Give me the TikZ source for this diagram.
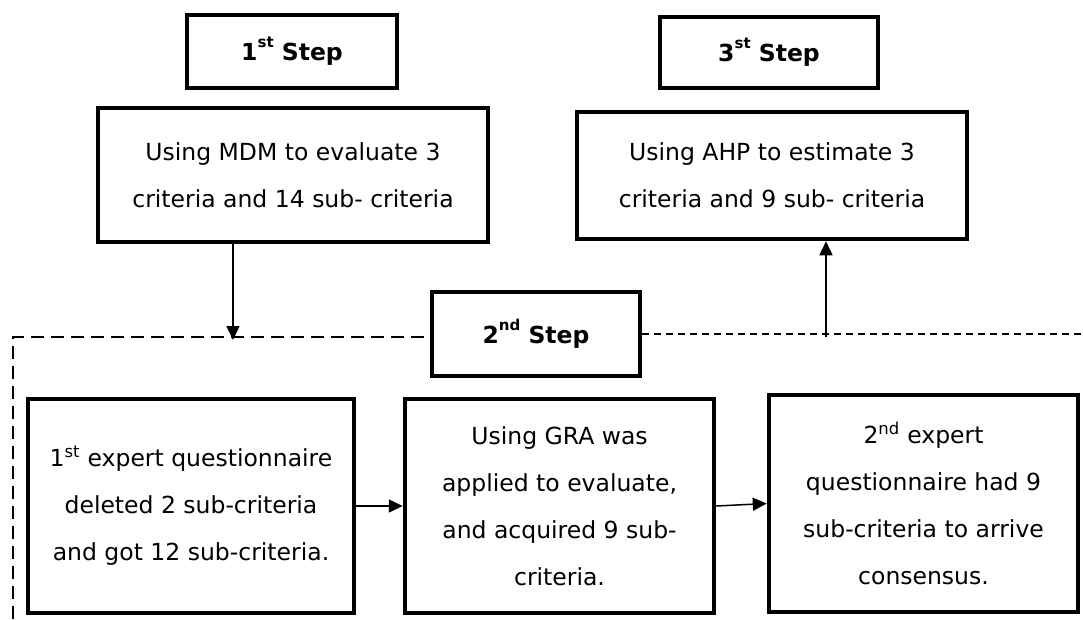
\documentclass[tikz,border=0pt]{standalone}
\usepackage{fontspec}
\setmainfont{DejaVu Sans}
\usetikzlibrary{arrows.meta}
\tikzset{
  box/.style={draw, line width=4.5pt, align=center, inner sep=0pt,
    font=\fontsize{23.5}{47}\selectfont},
  stepbox/.style={draw, line width=4.5pt, align=center, inner sep=0pt,
    font=\fontsize{23.5}{26}\selectfont\bfseries},
  arr/.style={line width=1.5pt, -{Triangle[length=14pt,width=13pt]}},
  dashl/.style={line width=1.3pt, dash pattern=on 13pt off 7pt},
  dashs/.style={line width=1.3pt, dash pattern=on 7pt off 5pt},
}
\newcommand{\stsup}[1]{\raisebox{0.55em}{\fontsize{15}{15}\selectfont #1}}
\begin{document}
\begin{tikzpicture}[x=1pt,y=-1pt]
\useasboundingbox (0,0) rectangle (1083,619);
\node[stepbox, minimum width=210pt, minimum height=73pt] (s1) at (292,51.5) {1\stsup{st} Step};
\node[box, minimum width=390pt, minimum height=134pt] (mdm) at (293,175) {Using MDM to evaluate 3\\criteria and 14 sub- criteria};
\node[stepbox, minimum width=218pt, minimum height=71pt] (s3) at (769,52.5) {3\stsup{st} Step};
\node[box, minimum width=390pt, minimum height=127pt] (ahp) at (772,175.5) {Using AHP to estimate 3\\criteria and 9 sub- criteria};
\node[stepbox, minimum width=208pt, minimum height=84pt] (s2) at (536,334) {2\stsup{nd} Step};
\node[box, minimum width=326pt, minimum height=214pt] (a) at (191,506) {1\textsuperscript{st} expert questionnaire\\deleted 2 sub-criteria\\and got 12 sub-criteria.};
\node[box, minimum width=309pt, minimum height=214pt] (b) at (559.5,506) {Using GRA was\\applied to evaluate,\\and acquired 9 sub-\\criteria.};
\node[box, minimum width=309pt, minimum height=217pt] (c) at (923.5,503.5) {2\textsuperscript{nd} expert\\questionnaire had 9\\sub-criteria to arrive\\consensus.};
% dashed frame
\coordinate (bl) at (13,619);
\coordinate (tl) at (13,337);
\coordinate (tr) at (1083,334);
\draw[dashl] (bl) -- (tl) -- (s2.west |- tl);
\draw[dashs] (s2.east |- tr) -- (tr);
% connectors
\coordinate (d1) at (233,340);
\draw[arr] (d1 |- mdm.south) -- (d1);
\coordinate (u1) at (826,337);
\draw[arr] (u1) -- (u1 |- ahp.south);
\draw[arr] (a.east) -- (b.west);
\draw[arr] (b.east) -- (c.west);
\end{tikzpicture}
\end{document}
